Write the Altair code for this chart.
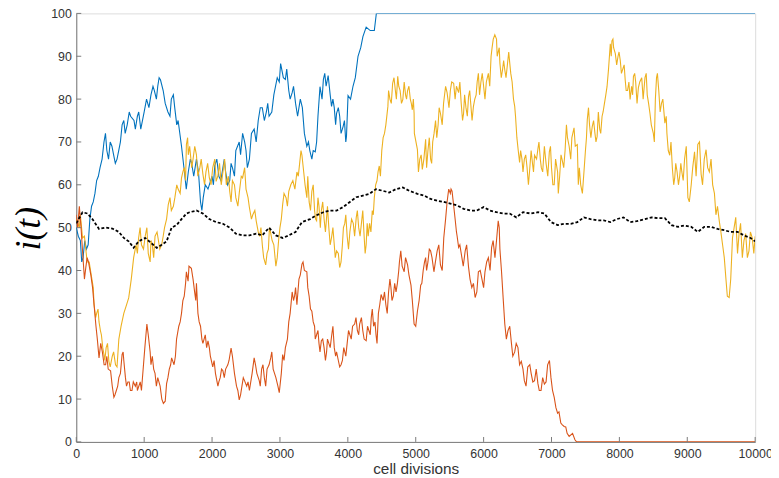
import altair as alt
import pandas as pd

# ---------------- data ----------------
blue_x = [0, 30, 60, 80, 100, 125, 150, 175, 200, 225, 250, 275, 300, 325, 350, 380, 408, 430, 450, 475, 500,
          525, 550, 575, 600, 625, 650, 675, 700, 720, 750, 780, 800, 850, 870, 900, 920, 950,
          1000, 1035, 1070, 1100, 1130, 1150, 1180, 1200, 1220, 1240, 1280, 1310, 1350, 1380, 1400, 1430, 1450,
          1480, 1500, 1550, 1600, 1620, 1650, 1680, 1700, 1730, 1770, 1800, 1830, 1850,
          1870, 1900, 1940, 2000, 2020, 2040, 2070, 2100, 2130, 2160, 2180, 2200, 2230, 2260, 2280, 2300, 2330,
          2350, 2400, 2420, 2450, 2480, 2500, 2520, 2550, 2580, 2620, 2650, 2680, 2710, 2740, 2770,
          2800, 2820, 2840, 2880, 2910, 2960, 2990, 3010, 3050, 3080, 3100, 3130, 3150, 3180, 3200, 3230, 3260,
          3280, 3300, 3330, 3360, 3396, 3420, 3440, 3470, 3490, 3520, 3540, 3560,
          3590, 3620, 3640, 3660, 3680, 3710, 3740, 3760, 3780, 3800, 3820, 3834, 3860, 3880, 3900, 3930, 3950,
          3970, 3980, 4003, 4040, 4076, 4110, 4150, 4190, 4222,
          4270, 4330, 4390, 4420, 10000]
blue_y = [50, 48, 47, 42, 43, 47, 45, 46, 52, 55, 56, 58, 61, 62, 64, 66, 70, 72, 68, 66, 70,
          69, 67, 65, 66, 68, 70, 74, 75, 72, 74, 77, 76, 75, 73, 76, 77, 73,
          77, 80, 78, 81, 83, 82, 80, 83, 85, 84.5, 82, 79, 77, 76, 80, 81, 78,
          74, 75, 69, 62, 59, 63, 66, 65, 62, 66, 63, 56, 54,
          57, 60, 59, 62, 60, 64.5, 66, 62, 61, 64, 66, 63, 60, 61, 65, 64, 62,
          68, 70, 67, 72, 70, 68, 64, 66, 72, 73, 70, 75, 78, 78, 75,
          77, 79, 76, 77, 81, 85, 84, 88.3, 85, 84.6, 87, 82, 80, 81.5, 83, 79, 76,
          78, 80, 78, 72, 69, 70, 68, 66, 68, 67.7, 70, 76,
          82.9, 80, 84.6, 86, 83, 85.5, 81, 78.3, 80, 78, 74, 76.7, 78, 76, 72, 73.6, 75,
          70, 71.3, 80.8, 80, 83, 85, 90, 92, 94.6,
          96.8, 96, 96, 100, 100]

yellow_x = [0, 45, 60, 92, 120, 140, 160, 190, 230, 250, 262, 285, 300, 320, 335, 355, 370, 390, 408, 420, 440,
            460, 480, 500, 530, 550, 578, 600, 627, 660, 700, 740, 772,
            810, 845, 880, 900, 918, 940, 960, 990, 1015, 1040, 1060, 1088, 1100, 1120, 1140, 1160, 1190, 1210,
            1230, 1258, 1280, 1300, 1330, 1355, 1380, 1400, 1430, 1452, 1480, 1500,
            1530, 1550, 1570, 1590, 1610, 1622, 1640, 1650, 1670, 1700, 1720, 1745, 1770, 1790, 1820, 1840, 1865,
            1890, 1910, 1935, 1960, 1985, 2010, 2040, 2060, 2085, 2110, 2135, 2160, 2185, 2210, 2240,
            2260, 2280, 2300, 2330, 2350, 2380, 2400, 2430, 2450, 2480, 2500, 2530, 2550, 2580, 2600, 2630, 2650,
            2680, 2700, 2720, 2740, 2760, 2790, 2810, 2830, 2845, 2860, 2885, 2910, 2940, 2960, 2980,
            3000, 3020, 3040, 3060, 3090, 3110, 3130, 3160, 3190, 3220, 3250, 3270, 3290, 3310, 3324, 3350,
            3370, 3396, 3410, 3430, 3450, 3470, 3490, 3510, 3525, 3540, 3560, 3575, 3595, 3610,
            3630, 3650, 3670, 3687, 3700, 3720, 3740, 3760, 3780, 3800, 3815, 3834, 3860, 3880, 3900, 3920, 3935,
            3955, 3970, 3990, 4010, 4030, 4055, 4080, 4100, 4124, 4140, 4160, 4180, 4200, 4220, 4240,
            4255, 4270, 4285, 4300, 4320, 4340, 4360, 4375, 4390, 4410, 4430, 4445, 4463, 4480, 4500, 4520, 4540,
            4560, 4590, 4600, 4620, 4640, 4660, 4680, 4700, 4715, 4735, 4750, 4770, 4790, 4810,
            4830, 4850, 4865, 4880, 4900, 4920, 4935, 4950, 4965, 4976, 4980, 5025, 5040, 5060, 5080, 5097, 5120,
            5146, 5160, 5180, 5200, 5219, 5235, 5250, 5270, 5292, 5310, 5330, 5345, 5364,
            5390, 5410, 5440, 5462, 5490, 5510, 5530, 5559, 5580, 5600, 5632, 5650, 5670, 5690, 5705, 5720, 5740,
            5760, 5778, 5795, 5810, 5830, 5850, 5870, 5890, 5905, 5923, 5940, 5960, 5980, 6000,
            6020, 6040, 6055, 6070, 6090, 6110, 6125, 6142, 6165, 6190, 6200, 6215, 6230, 6240, 6260, 6280, 6295,
            6312, 6330, 6350, 6370, 6385, 6400, 6420, 6440, 6458, 6470, 6490, 6510, 6530, 6545, 6565,
            6580, 6600, 6620, 6640, 6660, 6676, 6700, 6720, 6735, 6750, 6780, 6800, 6815, 6835, 6850, 6870, 6895,
            6920, 6945, 6968, 6985, 7000, 7020, 7040, 7060, 7090, 7100, 7120, 7140, 7160, 7180, 7200,
            7220, 7235, 7260, 7283, 7300, 7332, 7350, 7380, 7395, 7410, 7430, 7455, 7478, 7500, 7515, 7527, 7545,
            7560, 7580, 7600, 7620, 7640, 7655, 7672, 7690, 7710, 7725, 7745, 7760, 7780,
            7800, 7818, 7840, 7866, 7880, 7890, 7905, 7915, 7940, 7960, 7980, 7995, 8013, 8030, 8050, 8070, 8086,
            8100, 8120, 8140, 8158, 8180, 8195, 8207, 8225, 8240, 8260, 8280,
            8300, 8329, 8350, 8377, 8395, 8410, 8430, 8450, 8470, 8500, 8515, 8530, 8547, 8560, 8580, 8600, 8620,
            8640, 8670, 8690, 8700, 8720, 8742, 8760, 8780, 8800, 8815, 8830, 8850, 8870, 8888,
            8905, 8920, 8940, 8960, 8985, 9009, 9030, 9058, 9080, 9107, 9130, 9155, 9180, 9204, 9225, 9250, 9277,
            9300, 9325, 9350, 9374, 9400, 9422, 9445, 9471, 9495, 9520, 9545, 9568, 9590, 9617,
            9640, 9666, 9690, 9714, 9740, 9763, 9785, 9811, 9835, 9860, 9885, 9909, 9930, 9957, 9980, 10000]
yellow_y = [52, 50, 53, 47.6, 48, 45, 42, 42, 38, 36, 32, 29, 30, 31, 28, 26, 25, 22, 20.4, 19, 22,
            23, 18.8, 17.5, 20, 21, 18, 17.5, 24, 27, 30, 32, 33.6,
            38, 43, 46, 44, 47.6, 50, 46, 45, 48, 50, 44, 42, 47, 46, 43, 48, 49, 47,
            45, 46, 48, 50, 52, 55.4, 57, 54, 55, 57, 60, 59,
            58, 61.6, 63, 64, 61, 69.4, 71, 67, 69, 64, 66, 69, 67, 62, 64, 66, 62.5,
            60, 63, 65, 61.6, 60, 64, 66, 60.8, 62, 65, 60, 63, 66, 60, 62,
            58.5, 56, 61, 60, 57, 55, 58, 62, 61.6, 64, 59, 57, 54.7, 52, 53, 54, 51.6,
            49, 48, 50, 46, 43, 41.3, 44, 45, 50, 49, 47, 46, 41, 43, 47,
            50, 52, 55.4, 58, 57, 55, 58.5, 60, 61, 59, 63, 62, 65, 68, 66.9, 63,
            60, 57, 62, 56, 54, 58.5, 60, 54, 52, 51.6, 57, 55, 50, 54,
            56, 52, 49, 52.4, 55, 50, 46, 47.7, 50, 46, 43, 44.6, 44, 40.7, 42, 46, 50,
            51, 53, 48, 45, 49, 52, 51, 48, 52.4, 54, 50, 48, 51, 54, 48,
            44, 46, 51, 48, 51, 49, 54, 53, 57, 60, 61, 63, 64.4, 62, 68, 71, 72,
            74, 78.3, 82, 80, 79, 83.7, 85, 82, 80, 85.3, 83, 82, 79, 79.9,
            84, 81, 80, 82, 83, 80, 79, 77.5, 80, 76.7, 72, 68.2, 63, 66, 67, 63.6, 66,
            70.6, 64, 68, 71, 66, 65, 70, 72, 75, 71, 74, 78, 76.7,
            74, 79, 83, 81.5, 78, 82, 84, 83.7, 80, 83, 81.5, 84, 79, 75, 76.7, 81, 78,
            76, 80.6, 82, 79, 75, 78.3, 80, 81, 84, 86, 81, 84, 86, 83,
            80, 84, 85, 86, 83, 90, 92, 94, 95, 94, 90, 91, 92, 88.4, 85, 87, 89,
            86.8, 85, 88, 91, 88.4, 86, 84, 80, 78.3, 76, 71, 68, 65.2, 68, 66,
            63, 66, 67, 64, 60, 63, 68, 65, 63, 66.9, 66, 68.4, 70, 66, 64, 63, 69,
            65, 62, 67.7, 69, 64, 60, 60, 66, 63, 58, 62, 67, 65.6, 64, 68,
            74, 71, 69, 66, 71, 73.3, 69, 69.4, 60, 64, 60, 58, 63, 68, 71, 75.2, 78,
            74, 71, 73.6, 75, 72, 70, 71.3, 77, 73, 72, 76, 77, 79,
            81, 82.9, 87, 92.9, 90, 93.6, 94, 92, 90.6, 88, 90, 91, 89, 86, 87, 88, 84.4,
            82, 82, 84, 79.9, 83, 81, 85.3, 86, 84, 79, 82.7,
            84, 85, 80, 85, 86, 81, 79, 76.7, 74, 72, 70, 80, 85, 86, 82, 77, 79,
            80, 74.4, 76, 72, 68, 66.9, 70, 64, 60, 61.6, 65, 63, 60, 62,
            65, 63, 61, 66, 69, 57, 56, 60, 64, 67.7, 62, 69.4, 70, 62.5, 60, 66, 68.2,
            64, 63, 66, 60, 58, 53, 55, 51.6, 49, 46, 43, 38.3, 34, 33.7,
            38, 47.6, 50, 52.4, 44, 48.6, 51, 43, 47, 48.6, 43, 44.6, 49, 47.6, 44, 48]

red_x = [0, 20, 45, 70, 92, 120, 141, 160, 180, 214, 240, 262, 290, 310, 335, 360, 384, 410, 432, 450, 470, 505,
         530, 554, 570, 590, 610, 627, 650, 675, 690, 700, 724, 740, 760, 780,
         797, 820, 840, 870, 890, 900, 942, 960, 990, 1010, 1040, 1060, 1088, 1100, 1120, 1140, 1160, 1180, 1200,
         1235, 1260, 1283, 1310, 1330, 1350, 1370, 1390, 1404, 1440,
         1460, 1477, 1510, 1530, 1550, 1570, 1590, 1610, 1622, 1647, 1660, 1695, 1720, 1743, 1760, 1770, 1792,
         1810, 1830, 1850, 1865, 1900, 1920, 1940, 1960, 1975, 2010, 2030, 2050,
         2086, 2100, 2120, 2140, 2160, 2180, 2200, 2232, 2250, 2280, 2300, 2330, 2360, 2380, 2400, 2420, 2440,
         2460, 2478, 2510, 2530, 2550, 2570, 2590, 2620, 2640, 2660, 2695, 2710,
         2730, 2750, 2770, 2790, 2810, 2840, 2864, 2880, 2900, 2920, 2940, 2970, 2990, 3000, 3020, 3040, 3060,
         3080, 3110, 3130, 3150, 3180, 3200, 3215, 3230, 3250, 3280, 3300,
         3324, 3340, 3360, 3396, 3410, 3430, 3450, 3470, 3490, 3510, 3520, 3540, 3560, 3575, 3590, 3610, 3630,
         3650, 3670, 3687, 3700, 3720, 3740, 3760, 3780, 3800, 3820, 3834, 3860, 3880,
         3900, 3920, 3940, 3955, 3970, 3990, 4010, 4030, 4050, 4070, 4100, 4120, 4140, 4160, 4174, 4200, 4220,
         4240, 4270, 4290, 4310, 4330, 4345, 4360, 4380, 4400, 4415, 4430, 4450, 4470, 4490, 4520,
         4540, 4560, 4580, 4600, 4620, 4635, 4650, 4670, 4690, 4710, 4730, 4750, 4760, 4780, 4800, 4830, 4850,
         4880, 4900, 4930, 4950, 4976, 5000, 5025, 5050, 5073, 5090, 5110, 5130, 5146, 5160, 5180,
         5200, 5219, 5240, 5268, 5290, 5316, 5340, 5364, 5390, 5413, 5440, 5462, 5486, 5510, 5520, 5535, 5560,
         5583, 5600, 5610, 5632, 5650, 5680, 5700, 5729, 5750, 5778, 5800, 5826,
         5850, 5875, 5900, 5923, 5950, 5972, 6000, 6020, 6045, 6070, 6095, 6118, 6140, 6167, 6190, 6215, 6230,
         6240, 6264, 6290, 6312, 6335, 6360, 6385, 6410, 6430, 6458, 6480, 6506,
         6530, 6555, 6580, 6600, 6625, 6650, 6680, 6700, 6725, 6750, 6775, 6800, 6820, 6846, 6870, 6895, 6920,
         6943, 6970, 6992, 7015, 7040, 7065, 7090, 7110, 7137, 7160, 7186, 7210, 7230, 7260, 7310,
         7345, 7370, 10000]
red_y = [53, 50, 55, 50, 44.6, 38, 40.8, 43, 42, 39, 36, 32, 27, 24, 19.6, 23, 21, 18, 18, 20, 17, 16.6,
         13, 10.4, 11, 12, 13, 15, 16, 20.4, 21, 19, 15, 13, 14, 14,
         12, 12, 14, 13, 14, 12, 14, 12, 18, 22, 27.5, 25, 21, 18, 20, 17, 16, 13, 15,
         13, 10, 9, 9.5, 13.6, 15, 17, 18, 19.6, 18,
         20, 24, 27, 28, 30, 33, 34, 37, 39.7, 37.5, 41, 40.5, 38, 35, 33, 37, 30,
         28, 27, 24, 23, 25, 22, 23.6, 22, 20, 17.5, 19, 16,
         13, 14, 15, 17, 16.6, 15, 17, 18, 19, 21.9, 20, 16, 13, 12, 9.8, 11, 13,
         15, 14.3, 13, 14, 12, 14, 16, 19.6, 18, 16, 14.3, 13,
         17, 18, 15, 13, 17, 18, 19.6, 21, 17, 16, 15, 13, 11.5, 13, 16, 20.4, 19,
         22, 24, 28, 30, 35, 33, 34, 36, 32, 38, 39,
         41.5, 42, 40, 39.7, 36, 34, 31, 30.5, 28, 27, 24, 25, 26, 23, 21, 23.6, 24,
         22, 19, 21, 24, 23, 22, 24.6, 27, 22, 20, 21, 19, 17.5,
         18, 19, 22, 21, 20, 23, 26, 25, 24, 27, 27.5, 29, 26, 25, 27.5, 29, 26,
         24, 23.6, 27, 26, 25, 29, 31, 27, 28, 25, 23, 30, 32, 34.4, 33,
         35, 32, 30, 35, 38, 36, 33, 34, 37, 35, 37, 40, 42, 44.6, 41, 39.7, 43,
         41.3, 39, 36.6, 33, 27.5, 27, 30.5, 33, 36.6, 37, 40, 42, 43, 40, 42,
         45, 44.6, 43, 39.7, 42, 44.6, 46, 41.3, 40, 47.6, 52, 56, 59, 58, 59, 58.5, 55,
         51.6, 49, 48, 45.4, 46, 43, 41, 44.6, 46, 40.8, 38, 36,
         37, 33.7, 35, 39.7, 40, 38.3, 36, 39.7, 42, 43, 40, 45.4, 47, 43, 47, 51.6, 50,
         45, 39.7, 33, 27.5, 24, 26, 27, 23, 20, 21, 23, 22,
         18, 18.8, 17, 14.3, 13, 17.5, 18, 16, 14, 14.3, 17, 13.6, 12, 12, 15, 13.5, 14,
         18, 19, 15, 12, 10.4, 8, 6.7, 7, 4.4, 4, 3.6, 3.5, 2, 1.3, 2,
         0.5, 0, 0]

black_x = [0, 92, 165, 237, 335, 432, 530, 627, 700, 772, 845, 918, 1015, 1112, 1185, 1258, 1330, 1404, 1477,
           1550, 1622, 1670, 1770, 1865, 1960, 2060, 2160, 2260, 2350, 2450, 2550, 2650, 2740, 2840, 2940, 3040,
           3130, 3230, 3324, 3445, 3540, 3640, 3737, 3834, 3930, 4030, 4124, 4222, 4320, 4415, 4515, 4610, 4710,
           4810, 4905, 5025, 5122, 5219, 5316, 5413, 5510, 5608, 5705, 5802, 5900, 6000, 6094, 6190, 6290, 6385,
           6482, 6580, 6700, 6800, 6895, 6992, 7090, 7186, 7283, 7380, 7478, 7575, 7672, 7770, 7866, 7963, 8060,
           8158, 8255, 8377, 8475, 8572, 8670, 8767, 8864, 8960, 9058, 9155, 9250, 9350, 9447, 9545, 9640, 9740,
           9835, 9932, 10000]
black_y = [51, 53.6, 53.3, 52, 49.7, 50, 49.8, 49, 47.6, 46.8, 45.3, 46.8, 47.6, 46.3, 45.3, 46, 46.8, 50, 50.6,
           52, 53.3, 53.6, 54, 53.3, 52, 51.3, 50.9, 50, 48.6, 48.2, 48.2, 48.6, 48.2, 50, 48.2, 47.6,
           48.2, 49, 51.3, 52, 52.9, 53.6, 54, 54, 54.8, 56, 57.1, 57.5, 57.9, 59, 58.6, 58.2, 59,
           59.4, 58.6, 57.9, 57.5, 56.7, 56.3, 56, 55.6, 55.2, 54.4, 54, 54, 54.8, 54, 53.6, 53.3, 53.3,
           52.4, 53.6, 53.3, 53.6, 53.3, 51.3, 50.6, 50.9, 50.9, 51.3, 52.4, 52, 51.7, 51.7, 51.3, 52, 52.4,
           51.3, 51.5, 52, 52.4, 52.2, 52.2, 50.6, 50.2, 50.5, 50.2, 49, 50.2, 50.2, 49.7, 49.4, 49, 49,
           48.2, 47.6, 46.8]

x_ticks = [0, 1000, 2000, 3000, 4000, 5000, 6000, 7000, 8000, 9000, 10000]
y_ticks = [0, 10, 20, 30, 40, 50, 60, 70, 80, 90, 100]

# ---------------- chart ----------------
AXIS_COLOR = "#7a7a7a"
LABEL_COLOR = "#333333"
FONT = "Liberation Sans"

xscale = alt.Scale(domain=[0, 10000], nice=False, zero=False)
yscale = alt.Scale(domain=[0, 100], nice=False, zero=False)

xaxis = alt.Axis(values=x_ticks, format="d", ticks=False, grid=False, labelPadding=6,
                 labelFont=FONT, labelFontSize=12.5, labelColor=LABEL_COLOR, labelFlush=False,
                 labelOverlap=False, labelBound=False,
                 domainColor=AXIS_COLOR, domainWidth=1,
                 title="cell divisions", titleFont=FONT, titleFontSize=15.5, titleFontWeight="normal",
                 titleColor=LABEL_COLOR, titleY=32, titleBaseline="alphabetic")
yaxis = alt.Axis(values=y_ticks, format="d", ticks=False, grid=False, labelPadding=5,
                 labelFont=FONT, labelFontSize=12.5, labelColor=LABEL_COLOR, labelOverlap=False,
                 domainColor=AXIS_COLOR, domainWidth=1,
                 title="i(t)", titleFont="Liberation Serif", titleFontStyle="italic", titleFontSize=36,
                 titleFontWeight="normal", titleColor="#000000", titleAngle=270, titleAlign="center",
                 titleBaseline="alphabetic", titleX=-37, titleY=217)


def series(xs, ys, color, width=1.1, dash=None):
    df = pd.DataFrame({"x": xs, "y": ys})
    kw = dict(color=color, strokeWidth=width, clip=True)
    if dash:
        kw["strokeDash"] = dash
    return alt.Chart(df).mark_line(**kw).encode(
        x=alt.X("x:Q", scale=xscale, axis=xaxis),
        y=alt.Y("y:Q", scale=yscale, axis=yaxis),
    )


blue = series(blue_x, blue_y, "#0072BD")
yellow = series(yellow_x, yellow_y, "#EDB120")
red = series(red_x, red_y, "#D95319")
black = series(black_x, black_y, "#000000", width=1.8, dash=[3, 2])

# inward tick marks (positioned through the scales)
xt = pd.DataFrame({"x": x_ticks, "y0": [0] * len(x_ticks), "y1": [1.15] * len(x_ticks)})
yt = pd.DataFrame({"y": y_ticks, "x0": [0] * len(y_ticks), "x1": [73] * len(y_ticks)})
xtick_layer = alt.Chart(xt).mark_rule(color=AXIS_COLOR, strokeWidth=1).encode(
    x=alt.X("x:Q", scale=xscale, axis=xaxis), y=alt.Y("y0:Q", scale=yscale, axis=yaxis), y2="y1:Q")
ytick_layer = alt.Chart(yt).mark_rule(color=AXIS_COLOR, strokeWidth=1).encode(
    y=alt.Y("y:Q", scale=yscale, axis=yaxis), x=alt.X("x0:Q", scale=xscale, axis=xaxis), x2="x1:Q")

chart = alt.layer(blue, yellow, red, black, xtick_layer, ytick_layer).properties(
    width=686, height=433,
    autosize=alt.AutoSizeParams(type="none"),
    padding={"left": 69, "top": 3, "right": 16, "bottom": 34},
).configure_view(stroke=None).configure(background="white")

chart.save("out.html", embed_options={"renderer": "svg", "actions": False})
